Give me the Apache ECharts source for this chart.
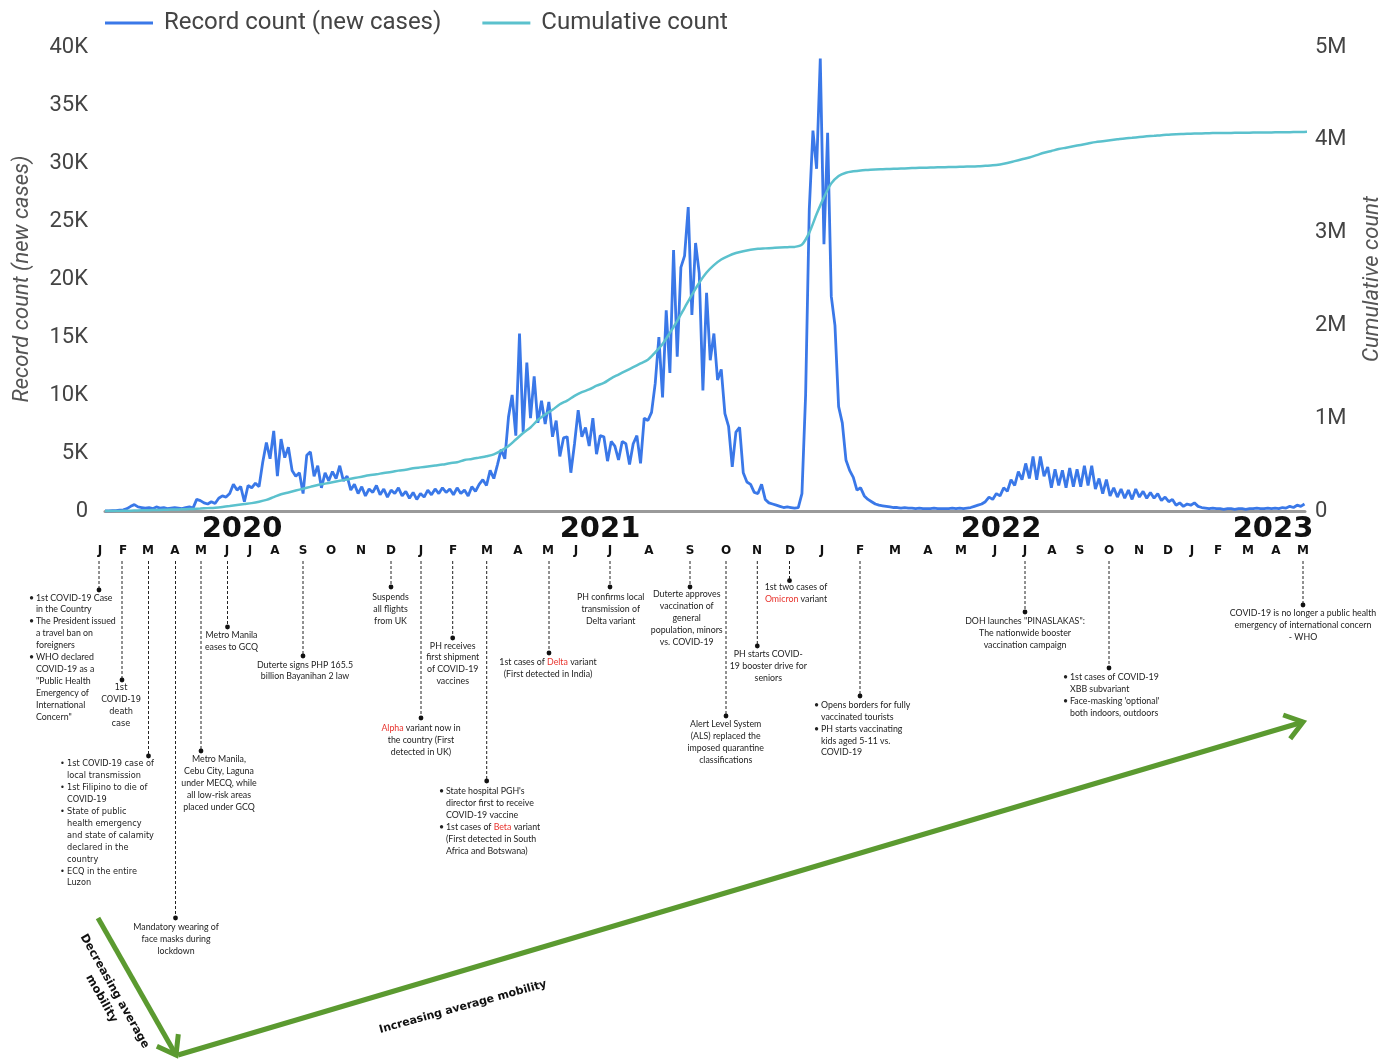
<!DOCTYPE html>
<html><head><meta charset="utf-8">
<script src="https://cdn.jsdelivr.net/npm/echarts@6/dist/echarts.min.js"></script>
<style>html,body{margin:0;padding:0;background:#fff}#c{width:1395px;height:1059px}</style>
</head><body><div id="c"></div>
<script>
// ---------------- DATA ----------------
const seriesNames = ['Record count (new cases)', 'Cumulative count'];
const startDate = [2020, 2, 4];          // 4 Mar 2020 (first plotted day)
const spanDays = 1145;                    // to ~23 Apr 2023
const dailyStepDays = 3.5;                // new cases read every half-week
const newCases = [
  0, 10, 20, 30, 80, 100, 200, 400, 550, 350, 300,
  250, 300, 200, 350, 250, 300, 200, 250, 300, 250, 200, 300, 350, 250,
  1000, 900, 700, 600, 800, 650, 1100, 1300, 1200, 1500,
  2300, 1800, 2100, 800, 2200, 2000, 2400, 2100, 4200, 5900, 4500, 6900, 3000, 6200, 4600, 5500,
  3500, 3000, 3300, 1500, 4800, 5100, 3000, 3900, 2000, 3300, 2600, 3400, 2800, 3900, 2600, 3000,
  1800, 2300, 1500, 2100, 1300, 1900, 1600, 2200, 1400, 1900, 1200, 1800, 1500, 2000, 1300, 1700,
  1100, 1600, 1000, 1500, 1200, 1800, 1400, 1900, 1500, 2000, 1600, 1900, 1400, 2000, 1500, 1800,
  1300, 2100, 1700, 2300,
  2700, 2200, 3500, 2800, 4000, 5300, 4500, 8100, 10000, 6500, 15300, 6800, 12800, 8000, 11600, 7600,
  9500, 7500, 9400, 6400, 7800, 4700, 6300, 6400, 3300, 5800, 8700, 6400, 7200, 5600, 8000, 4900,
  6500, 6400, 4300, 6000, 5600, 4400, 6000, 5800, 4000, 5800, 6500, 4100,
  8000, 7800, 8500, 11000, 15000, 9800, 17300, 11900, 22500, 13300, 21000, 22000, 26200, 16900, 23100,
  20500, 10400, 18800, 13000, 15300, 11300, 12200, 8400, 7300, 3800, 6800, 7200, 3300, 2500, 2300, 1600,
  1500, 2300, 1000, 700, 600, 500, 400, 300, 350, 300, 250, 300,
  1500, 10000, 26000, 32800, 29500, 39000, 23000, 32600, 18500, 16000, 9000, 7600, 4400, 3500, 2900, 1800,
  2000, 1300, 1000, 800,
  600, 500, 450, 400, 350, 300, 300, 250, 300, 250, 250, 200, 250, 200, 200, 200, 250, 200, 200, 200,
  200, 250, 200, 250, 200, 250, 300, 400, 500, 600, 800,
  1200, 1000, 1500, 1300, 2000, 1700, 2700, 2200, 3400, 2700, 4100, 2800, 4700, 2700, 4700, 3000,
  3800, 2000, 3600, 2200, 3500, 2000, 3700, 2100, 3600, 2100, 3900, 2200, 3900, 1900, 2800, 1500,
  2700, 1300, 2000, 1200, 1900, 1100, 1800, 1000, 1900, 1200, 1700, 1100, 1600, 1100, 1500, 900,
  1200, 800, 1000, 500, 700, 400, 600, 500, 700, 400, 300,
  250, 200, 250, 200, 200, 150, 200, 200, 150, 200, 200, 150, 200, 200, 250, 200, 200, 250, 200, 250, 200,
  300, 250, 400, 300, 500, 400, 600
];
const cumulativeStepDays = 7;             // cumulative read weekly
const cumulativeMillions = [
  0, 0.0003, 0.001, 0.003, 0.005, 0.007, 0.009, 0.011, 0.013, 0.015,
  0.017, 0.019, 0.022, 0.026, 0.031, 0.036, 0.044, 0.054, 0.065, 0.075,
  0.085, 0.10, 0.12, 0.15, 0.18, 0.20, 0.22, 0.24, 0.26, 0.28,
  0.295, 0.31, 0.325, 0.34, 0.355, 0.37, 0.385, 0.395, 0.41, 0.42,
  0.435, 0.445, 0.46, 0.47, 0.48, 0.49, 0.50, 0.515, 0.525, 0.55,
  0.56, 0.575, 0.59, 0.61, 0.65, 0.70, 0.77, 0.84, 0.90, 0.98,
  1.04, 1.09, 1.15, 1.19, 1.24, 1.28, 1.31, 1.35, 1.38, 1.43,
  1.47, 1.51, 1.55, 1.59, 1.63, 1.71, 1.80, 1.92, 2.05, 2.19,
  2.33, 2.46, 2.57, 2.65, 2.71, 2.75, 2.78, 2.80, 2.815, 2.825,
  2.83, 2.835, 2.84, 2.843, 2.846, 2.87, 3.00, 3.20, 3.38, 3.53,
  3.61, 3.645, 3.66, 3.67, 3.675, 3.68, 3.683, 3.686, 3.689, 3.692,
  3.695, 3.698, 3.70, 3.702, 3.704, 3.706, 3.708, 3.71, 3.712, 3.715,
  3.72, 3.725, 3.735, 3.75, 3.77, 3.79, 3.81, 3.835, 3.86, 3.88,
  3.90, 3.915, 3.93, 3.945, 3.96, 3.975, 3.985, 3.995, 4.005, 4.015,
  4.022, 4.03, 4.037, 4.043, 4.05, 4.055, 4.06, 4.063, 4.066, 4.068,
  4.07, 4.072, 4.073, 4.074, 4.075, 4.076, 4.077, 4.078, 4.079, 4.08,
  4.081, 4.082, 4.083, 4.084, 4.086
];
const yearLabels = ['2020', '2021', '2022', '2023'];
const monthLetters = ['J','F','M','A','M','J','J','A','S','O','N','D',
  'J','F','M','A','M','J','J','A','S','O','N','D',
  'J','F','M','A','M','J','J','A','S','O','N','D',
  'J','F','M','A','M'];

// ---------------- LAYOUT (annotation positions) ----------------
const yearX = [242, 600, 1001, 1273];
const monthX = [100,123,148,175,201,227,250,275,303,331,361,391,
  421,453,487,518,548,576,610,649,690,726,757,790,
  822,860,895,928,961,995,1025,1052,1080,1109,1139,1168,
  1192,1218,1248,1276,1303];

const notes = [
 {x:99, dot:590, bx:29, tx:36, ty:597.7, items:[["1st COVID-19 Case","in the Country"],["The President issued","a travel ban on","foreigners"],["WHO declared","COVID-19 as a","\"Public Health","Emergency of","International","Concern\""]]},
 {x:122, dot:680, cx:121, ty:688, spaced:true, lines:["1st","COVID-19","death","case"]},
 {x:148.5, dot:756, bx:60, tx:67, ty:764.3, spaced:true, items:[["1st COVID-19 case of","local transmission"],["1st Filipino to die of","COVID-19"],["State of public","health emergency","and state of calamity","declared in the","country"],["ECQ in the entire","Luzon"]]},
 {x:175.5, dot:918, cx:176, ty:927, lines:["Mandatory wearing of","face masks during","lockdown"]},
 {x:201, dot:751, cx:219, ty:759.3, lines:["Metro Manila,","Cebu City, Laguna","under MECQ, while","all low-risk areas","placed under GCQ"]},
 {x:227.5, dot:627, cx:231.5, ty:635.3, lines:["Metro Manila","eases to GCQ"]},
 {x:303, dot:656, cx:305, ty:664.7, lines:["Duterte signs PHP 165.5","billion Bayanihan 2 law"]},
 {x:391, dot:587, cx:390.5, ty:597, lines:["Suspends","all flights","from UK"]},
 {x:421, dot:718, cx:421, ty:728.3, lines:["{r|Alpha} variant now in","the country (First","detected in UK)"]},
 {x:452.7, dot:638, cx:452.7, ty:645.7, lines:["PH receives","first shipment","of COVID-19","vaccines"]},
 {x:486.7, dot:781, bx:439, tx:446, ty:791.3, items:[["State hospital PGH's","director first to receive","COVID-19 vaccine"],["1st cases of {r|Beta} variant","(First detected in South","Africa and Botswana)"]]},
 {x:549, dot:653, cx:548, ty:662, lines:["1st cases of {r|Delta} variant","(First detected in India)"]},
 {x:610, dot:587, cx:610.7, ty:597, lines:["PH confirms local","transmission of","Delta variant"]},
 {x:690, dot:587, cx:686.7, ty:594.3, lines:["Duterte approves","vaccination of","general","population, minors","vs. COVID-19"]},
 {x:726, dot:716, cx:725.7, ty:724, lines:["Alert Level System","(ALS) replaced the","imposed quarantine","classifications"]},
 {x:757.3, dot:646, cx:768.3, ty:654.3, lines:["PH starts COVID-","19 booster drive for","seniors"]},
 {x:789.5, dot:580.7, cx:796, ty:587, lines:["1st two cases of","{r|Omicron} variant"]},
 {x:860, dot:696, bx:814, tx:821, ty:705, items:[["Opens borders for fully","vaccinated tourists"],["PH starts vaccinating","kids aged 5-11 vs.","COVID-19"]]},
 {x:1025, dot:612, cx:1025, ty:621, lines:["DOH launches \"PINASLAKAS\":","The nationwide booster","vaccination campaign"]},
 {x:1109, dot:668, bx:1063, tx:1070, ty:677, items:[["1st cases of COVID-19","XBB subvariant"],["Face-masking 'optional'","both indoors, outdoors"]]},
 {x:1303, dot:605, cx:1303, ty:613, lines:["COVID-19 is no longer a public health","emergency of international concern","- WHO"]}
];

// ---------------- BUILD ----------------
const DAY = 86400000;
const t0 = Date.UTC(startDate[0], startDate[1], startDate[2]);
const dailyData = newCases.map((v, i) => [t0 + i * dailyStepDays * DAY, v]);
const cumData = cumulativeMillions.map((v, j) => [t0 + j * cumulativeStepDays * DAY, v]);

const BLUE = '#3a78e8', TEAL = '#5bc1cd', GREEN = '#5b9a30', RED = '#e8322c';
const NOTE_FONT = 'Lato, "Open Sans", sans-serif';
const SPACED_FONT = '"DejaVu Sans", sans-serif';
const LH = 11.9;

const g = [];
yearLabels.forEach((t, i) => g.push({type:'text', x: yearX[i], y: 529.5, silent:true,
  style:{text:t, align:'center', verticalAlign:'middle', fontFamily:'"DejaVu Sans", sans-serif', fontWeight:'bold', fontSize:29, fill:'#111'}}));
monthLetters.forEach((t, i) => g.push({type:'text', x: monthX[i], y: 551, silent:true,
  style:{text:t, align:'center', verticalAlign:'middle', fontFamily:'"DejaVu Sans", sans-serif', fontWeight:'bold', fontSize:12, fill:'#111'}}));

function noteText(x, y, text, align, spaced) {
  const fam = spaced ? SPACED_FONT : NOTE_FONT;
  const fs = spaced ? 8.2 : 8.8;
  return {type:'text', x:x, y:y, silent:true, style:{text:text, align:align, verticalAlign:'middle',
    fontFamily:fam, fontSize:fs, fill:'#222',
    rich:{r:{fill:RED, fontFamily:fam, fontSize:fs}}}};
}
notes.forEach(n => {
  g.push({type:'line', silent:true, shape:{x1:n.x, y1:561, x2:n.x, y2:n.dot}, style:{stroke:'#222', lineWidth:1, lineDash:[3,2]}});
  g.push({type:'circle', silent:true, shape:{cx:n.x, cy:n.dot, r:2.4}, style:{fill:'#111'}});
  if (n.items) {
    let k = 0;
    n.items.forEach(item => {
      g.push(noteText(n.bx, n.ty + k * LH, '•', 'left', n.spaced));
      item.forEach(line => { g.push(noteText(n.tx, n.ty + k * LH, line, 'left', n.spaced)); k++; });
    });
  } else {
    n.lines.forEach((line, k) => g.push(noteText(n.cx, n.ty + k * LH, line, 'center', n.spaced)));
  }
});

function arrow(x1, y1, x2, y2) {
  const a = Math.atan2(y2 - y1, x2 - x1), L = 21, h = 36 * Math.PI / 180;
  g.push({type:'line', silent:true, shape:{x1, y1, x2, y2}, style:{stroke:GREEN, lineWidth:5, lineCap:'butt'}});
  g.push({type:'polyline', silent:true, shape:{points:[
    [x2 - L * Math.cos(a - h), y2 - L * Math.sin(a - h)], [x2, y2],
    [x2 - L * Math.cos(a + h), y2 - L * Math.sin(a + h)]]},
    style:{stroke:GREEN, lineWidth:5, fill:null, lineJoin:'miter'}});
}
arrow(98, 918, 176, 1055);
arrow(178, 1055, 1303, 722);
g.push({type:'text', x:108, y:995, rotation:-60.6 * Math.PI / 180, silent:true,
  style:{text:'Decreasing average\nmobility', align:'center', verticalAlign:'middle', lineHeight:15,
    fontFamily:'"DejaVu Sans", sans-serif', fontWeight:'bold', fontSize:11.5, fill:'#111'}});
g.push({type:'text', x:463, y:1007, rotation:15.5 * Math.PI / 180, silent:true,
  style:{text:'Increasing average mobility', align:'center', verticalAlign:'middle',
    fontFamily:'"DejaVu Sans", sans-serif', fontWeight:'bold', fontSize:11, fill:'#111'}});

const chart = echarts.init(document.getElementById('c'), null, {renderer:'canvas'});
chart.setOption({
  animation:false,
  backgroundColor:'#fff',
  legend:{left:100, top:6, icon:'rect', itemWidth:48, itemHeight:3, itemGap:41,
    textStyle:{fontFamily:'Roboto', fontSize:24, color:'#444', padding:[0,0,0,6]},
    data:seriesNames},
  grid:{left:105, right:90, top:47, bottom:548},
  xAxis:{type:'time', min:t0, max:t0 + spanDays * DAY,
    axisLabel:{show:false}, axisTick:{show:false}, splitLine:{show:false},
    axisLine:{show:true, lineStyle:{color:'#9a9a9a', width:3}}},
  yAxis:[
    {type:'value', min:0, max:40000, interval:5000, position:'left',
     axisLabel:{color:'#444', fontFamily:'Roboto', fontSize:22, margin:17,
       formatter:v => v === 0 ? '0' : (v / 1000) + 'K'},
     axisLine:{show:false}, axisTick:{show:false}, splitLine:{show:false},
     name:seriesNames[0], nameLocation:'middle', nameGap:72, nameRotate:90,
     nameTextStyle:{fontFamily:'Roboto', fontStyle:'italic', fontSize:22, color:'#555'}},
    {type:'value', min:0, max:5, interval:1, position:'right',
     axisLabel:{color:'#444', fontFamily:'Roboto', fontSize:22, margin:10,
       formatter:v => v === 0 ? '0' : v + 'M'},
     axisLine:{show:false}, axisTick:{show:false}, splitLine:{show:false},
     name:seriesNames[1], nameLocation:'middle', nameGap:56, nameRotate:90,
     nameTextStyle:{fontFamily:'Roboto', fontStyle:'italic', fontSize:22, color:'#555'}}
  ],
  series:[
    {name:seriesNames[0], type:'line', yAxisIndex:0, data:dailyData, showSymbol:false, z:3,
     lineStyle:{color:BLUE, width:2.8}, itemStyle:{color:BLUE}},
    {name:seriesNames[1], type:'line', yAxisIndex:1, data:cumData, showSymbol:false, smooth:0.3, z:4,
     lineStyle:{color:TEAL, width:2.5}, itemStyle:{color:TEAL}}
  ],
  graphic:g
});
</script></body></html>
